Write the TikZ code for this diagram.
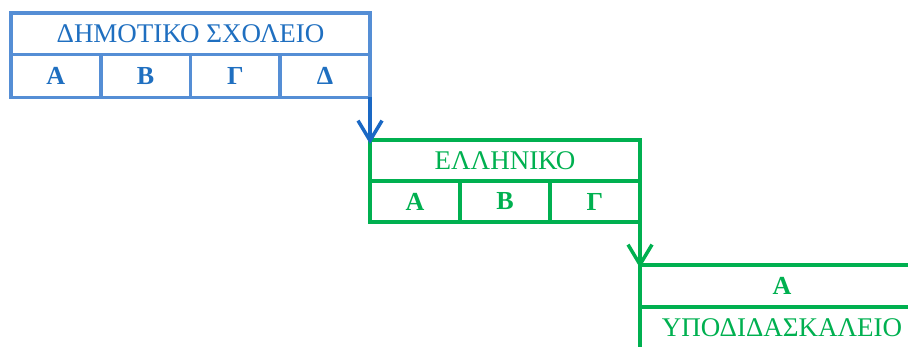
\documentclass[tikz,border=0pt]{standalone}
\usepackage{fontspec}
\setmainfont{Liberation Serif}
\usetikzlibrary{arrows.meta}
\definecolor{bbord}{HTML}{558ED5}
\definecolor{btext}{HTML}{1F6FC0}
\definecolor{barrow}{HTML}{1A68C4}
\definecolor{gcol}{HTML}{00B050}
\tikzset{
  cell/.style={draw, line width=3.7pt, inner sep=0pt, outer sep=0pt, anchor=center},
  bluecell/.style={cell, draw=bbord, text=btext},
  greencell/.style={cell, draw=gcol, text=gcol},
  titletext/.style={font=\fontsize{27}{30}\selectfont},
  lettertext/.style={font=\fontsize{26}{30}\selectfont\bfseries},
  flow/.style={line width=3.7pt, -{Straight Barb[length=20pt,width=24pt,line width=3.5pt]}}
}
\begin{document}
\begin{tikzpicture}[x=1pt,y=-1pt]
\useasboundingbox (0,0) rectangle (908,347);
\clip (0,0) rectangle (908,347);
% box 1
\node[bluecell, titletext, minimum width=359pt, minimum height=41.5pt] (t1) at (190.5,33.75) {ΔΗΜΟΤΙΚΟ ΣΧΟΛΕΙΟ};
\node[bluecell, lettertext, minimum width=89.75pt, minimum height=43pt] (a1) at (55.875,76) {Α};
\node[bluecell, lettertext, minimum width=89.75pt, minimum height=43pt] (b1) at (145.625,76) {Β};
\node[bluecell, lettertext, minimum width=89.75pt, minimum height=43pt] (g1) at (235.375,76) {Γ};
\node[bluecell, lettertext, minimum width=89.75pt, minimum height=43pt] (d1) at (325.125,76) {Δ};
% box 2
\node[greencell, titletext, minimum width=270pt, minimum height=41pt] (t2) at (505,160.5) {ΕΛΛΗΝΙΚΟ};
\node[greencell, lettertext, minimum width=90pt, minimum height=41pt] (a2) at (415,201.5) {Α};
\node[greencell, lettertext, minimum width=90pt, minimum height=41pt] (b2) at (505,201.5) {Β};
\node[greencell, lettertext, minimum width=90pt, minimum height=41pt] (g2) at (595,201.5) {Γ};
% box 3
\node[greencell, lettertext, minimum width=284pt, minimum height=42pt] (a3) at (782,286) {Α};
\node[greencell, titletext, minimum width=284pt, minimum height=42pt] (t3) at (782,328) {ΥΠΟΔΙΔΑΣΚΑΛΕΙΟ};
% connectors
\draw[flow, draw=barrow] (d1.south east) -- ([yshift=-4pt]t2.north west);
\draw[flow, draw=gcol] (g2.south east) -- ([yshift=-3pt]a3.north west);
\end{tikzpicture}
\end{document}
